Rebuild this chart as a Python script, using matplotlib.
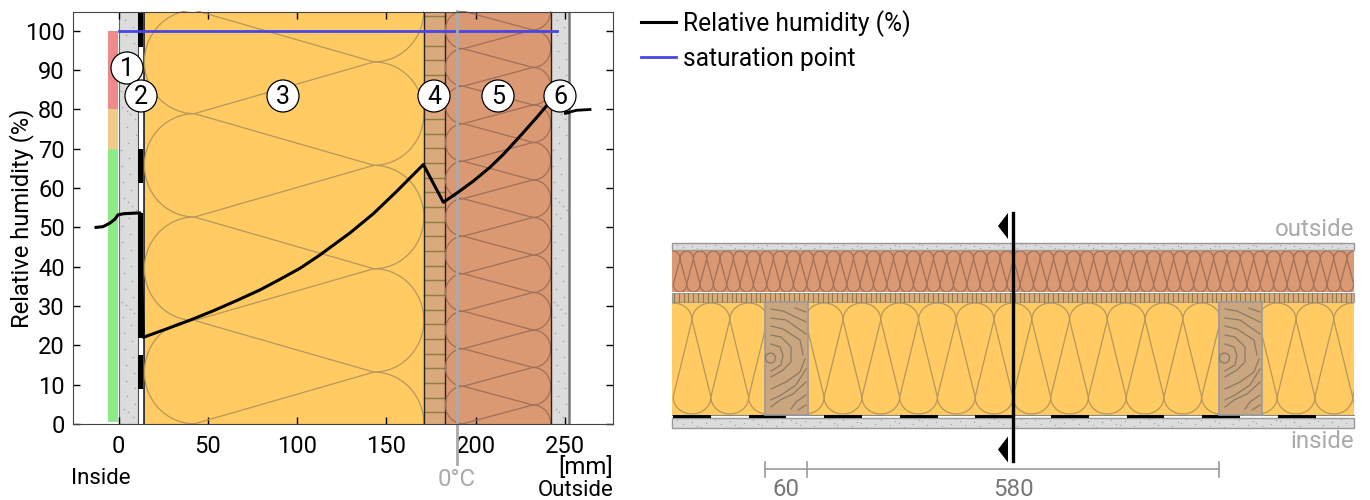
import matplotlib
matplotlib.use("Agg")
import matplotlib.pyplot as plt
import numpy as np
from matplotlib.patches import Rectangle, Circle, Polygon

plt.rcParams['font.family'] = ['Roboto', 'DejaVu Sans']

# humidity curve, mm through the wall / %
rh_x = [-12.6, -8.7, -4.8, -2, -0.3, 3, 12, 13.9, 27, 40, 53.1, 66.2, 79.2, 90.4, 101.6, 112.8, 129.6,
        142.7, 155.8, 170.7, 181.9, 190.3, 198.7, 208, 215.5, 224.8, 234.2, 239.8, 245]
rh_y = [50, 50.2, 51.1, 52.1, 53.2, 53.5, 53.7, 22.06, 24.2, 26.4, 28.8, 31.4, 34.1, 36.8, 39.6, 43, 48.6,
        53.5, 59.2, 66, 56.4, 59, 61.8, 65.3, 68.6, 73.2, 78, 81, 83.8]
out_x = [250.5, 256.5, 264]
out_y = [79.1, 79.8, 80]
sat_x = [0, 245.5]
sat_y = [100, 100]
zero_deg_x = 189.5

x_ticks = [0, 50, 100, 150, 200, 250]
y_ticks = [0, 10, 20, 30, 40, 50, 60, 70, 80, 90, 100]

# comfort band on the left
band_lo = [0, 70, 80]
band_hi = [70, 80, 100]
band_col = ['#8eea88', '#f0ca88', '#ef8a8a']

# wall layers in mm
wall = [0.3, 11]
membrane = [11, 13.8]
glass = [14.5, 171]
boards = [171, 183]
wood_fibre = [183, 242]
render = [242, 252]
# black parts of the vapour membrane, in %
membrane_lo = [9, 22, 61.3, 96]
membrane_hi = [17.5, 53.7, 70, 104.8]

labels = ['1', '2', '3', '4', '5', '6']
label_px = [127, 141, 283, 434, 498, 560]
label_py = [68, 96, 96, 96, 96, 96]

# section drawing, pixels
studs = [765, 1219]
dash_lo = [673, 749, 824, 900, 975, 1051, 1127, 1202, 1278]
dash_hi = [711, 786, 862, 938, 1013, 1089, 1164, 1240, 1316]
dim_ticks = [765, 807, 1219]
dim_text = ['60', '580']

YELLOW = '#ffcb62'
YLINE = '#b8975a'
RED = '#da9873'
RLINE = '#a07058'
BOARD = '#dbaa7c'
BLINE = '#8e7c42'
CONC = '#dcdcdc'
STUD = '#c9a680'


def batt(ax, p0, p1, rp, rr, c0, n, color, lw, clip, swap=False):
    # glass wool zigzag, p = across the layer, c = along the layer
    pa = p0 + rp
    pb = p1 - rp
    t = np.linspace(0, np.pi, 40)
    for k in range(n):
        c = c0 + 2 * rr * k
        pieces = [
            (pa - rp * np.sin(t), c - rr * np.cos(t)),
            (pb + rp * np.sin(t), c + rr - rr * np.cos(t)),
            ([pa, pb], [c + rr, c]),
            ([pa, pb], [c + rr, c + 2 * rr]),
        ]
        for a, b in pieces:
            xy = (b, a) if swap else (a, b)
            line, = ax.plot(xy[0], xy[1], color=color, lw=lw, zorder=2, solid_capstyle='butt')
            line.set_clip_path(clip)


def speckle(ax, x0, x1, y0, y1, n, size=1.0):
    # fixed scatter from the golden ratio sequence
    i = np.arange(1, n + 1)
    xs = x0 + (x1 - x0) * ((i * 0.6180339) % 1)
    ys = y0 + (y1 - y0) * ((i * 0.7548777) % 1)
    ax.scatter(xs, ys, s=size, color='#a5a5a5', linewidths=0, zorder=2)


fig = plt.figure(figsize=(13.7, 5), dpi=100)
ax = fig.add_axes([73 / 1370, 76 / 500, 540 / 1370, 412 / 500])
px_mm = 1.786
ax.set_xlim((73 - 118.5) / px_mm, (613 - 118.5) / px_mm)
ax.set_ylim(0, 104.8)

for lo, hi, col in zip(band_lo, band_hi, band_col):
    ax.add_patch(Rectangle((-6, lo + 0.5 if lo == 0 else lo), 5.5, hi - lo, color=col, lw=0, zorder=1))

# layers
ax.add_patch(Rectangle((wall[0], 0), wall[1] - wall[0], 105, fc=CONC, ec='#666666', lw=0.8, zorder=1))
speckle(ax, wall[0] + 1, wall[1] - 1, 1, 104, 60, 1.3)
ax.add_patch(Rectangle((membrane[0], 0), membrane[1] - membrane[0], 105, fc='white', ec='#444444', lw=0.7, zorder=1))
for lo, hi in zip(membrane_lo, membrane_hi):
    ax.add_patch(Rectangle((membrane[0], lo), membrane[1] - membrane[0], hi - lo, fc='black', lw=0, zorder=3))

r_glass = Rectangle((glass[0], 0), glass[1] - glass[0], 105, fc=YELLOW, ec='#333333', lw=0.7, zorder=1)
ax.add_patch(r_glass)
batt(ax, glass[0], glass[1], 28, 13.15, 92.1 - 26.3 * 4, 7, YLINE, 0.9, r_glass)

r_board = Rectangle((boards[0], 0), boards[1] - boards[0], 105, fc=BOARD, lw=0, zorder=1)
ax.add_patch(r_board)
for y in np.arange(3.0, 105, 3.73):
    ax.plot(boards, [y, y], color=BLINE, lw=1.0, zorder=2)
ax.axvline(boards[0], color='#222222', lw=1.0, zorder=2)
ax.axvline(boards[1], color='#222222', lw=1.0, zorder=2)

r_fibre = Rectangle((wood_fibre[0], 0), wood_fibre[1] - wood_fibre[0], 105, fc=RED, lw=0, zorder=1)
ax.add_patch(r_fibre)
batt(ax, wood_fibre[0], wood_fibre[1], 10, 4.77, 90.7 - 9.54 * 10, 13, RLINE, 0.9, r_fibre)
ax.axvline(wood_fibre[1], color='#222222', lw=1.0, zorder=2)

ax.add_patch(Rectangle((render[0], 0), render[1] - render[0], 105, fc=CONC, lw=0, zorder=1))
speckle(ax, render[0] + 1, render[1] - 1, 1, 104, 60, 1.3)
ax.axvline(render[1], color='#777777', lw=1.8, zorder=2)

ax.plot(rh_x, rh_y, color='black', lw=2.2, zorder=5, label='Relative humidity (%)')
ax.plot(out_x, out_y, color='black', lw=2.0, zorder=5)
ax.annotate('', xy=(out_x[0] - 1.5, out_y[0] - 0.4), xytext=(out_x[0] + 1, out_y[0] + 0.3),
            arrowprops=dict(arrowstyle='->', color='black', lw=1.0, mutation_scale=8, shrinkA=0, shrinkB=0), zorder=5)
ax.plot(sat_x, sat_y, color='#4646e6', lw=2, zorder=4, label='saturation point')
ax.plot([zero_deg_x, zero_deg_x], [-10.3, 105], color='#aaaaaa', lw=2, zorder=4, clip_on=False)

ax.set_xticks(x_ticks)
ax.set_yticks(y_ticks)
ax.tick_params(direction='in', length=5, width=1, top=True, right=True, labelsize=17, pad=8, zorder=6)
ax.tick_params(axis='y', pad=6)
ax.set_ylabel('Relative humidity (%)', fontsize=17)
ax.yaxis.set_label_coords((34 - 73) / 540, 0.5)
for s in ax.spines.values():
    s.set_color('#444444')
    s.set_zorder(6)

fig.legend(*ax.get_legend_handles_labels(), loc='upper left', bbox_to_anchor=(641 / 1370, 1 - 10 / 500),
           frameon=False, fontsize=17.7, handlelength=1.43, handletextpad=0.28, labelspacing=0.41,
           borderpad=0, borderaxespad=0)

# overlay in pixels
ov = fig.add_axes([0, 0, 1, 1], zorder=5)
ov.set_xlim(0, 1370)
ov.set_ylim(500, 0)
ov.axis('off')
ov.patch.set_alpha(0)

for t, x, y in zip(labels, label_px, label_py):
    ov.add_patch(Circle((x, y), 16, fc='white', ec='black', lw=0.9, zorder=6))
    ov.text(x, y + 1, t, fontsize=18, ha='center', va='center', zorder=7)

ov.text(101, 478, 'Inside', fontsize=16, ha='center', va='center')
ov.text(613, 467, '[mm]', fontsize=17.3, ha='right', va='center')
ov.text(614, 490, 'Outside', fontsize=16, ha='right', va='center')
ov.text(457, 479, '0°C', fontsize=17.3, ha='center', va='center', color='#aaaaaa')

# section drawing
X0, X1 = 672, 1354
for y0, y1 in [(243, 250), (418, 428)]:
    ov.add_patch(Rectangle((X0, y0), X1 - X0, y1 - y0, fc=CONC, ec='#999999', lw=1, zorder=1))
    speckle(ov, X0 + 2, X1 - 2, y0 + 1, y1 - 1, 110, 1.0)

r_top = Rectangle((X0, 251), X1 - X0, 41, fc=RED, lw=0, zorder=1)
ov.add_patch(r_top)
batt(ov, 251, 292, 8, 6.67, 686.7 - 13.34, 53, RLINE, 0.9, r_top, swap=True)

ov.add_patch(Rectangle((X0, 293), X1 - X0, 9, fc=BOARD, ec='#999999', lw=0.8, zorder=1))
for x in np.arange(X0 + 2, X1, 4.8):
    ov.plot([x, x], [293, 302], color=BLINE, lw=0.8, zorder=2)

r_bot = Rectangle((X0, 303), X1 - X0, 112, fc=YELLOW, lw=0, zorder=1)
ov.add_patch(r_bot)
batt(ov, 303, 414, 17, 18.875, 710.9 - 37.75, 19, YLINE, 0.9, r_bot, swap=True)

ov.plot([X0, X1], [415, 415], color='#888888', lw=0.8, zorder=2)
for lo, hi in zip(dash_lo, dash_hi):
    ov.add_patch(Rectangle((lo, 415), hi - lo, 3, fc='black', lw=0, zorder=3))

# grain of the studs, offsets from the top left corner
grain = [
    [(6, 7), (18, 9), (41, 20)],
    [(30, 6), (41, 10)],
    [(6, 16), (21, 18), (41, 32)],
    [(6, 24), (18, 27), (35, 38), (38, 53)],
    [(6, 33), (16, 35), (26, 45), (26, 60), (18, 68), (6, 75)],
    [(6, 42), (15, 45), (18, 53), (16, 63), (6, 69)],
    [(40, 57), (35, 70), (21, 80), (6, 87)],
    [(41, 67), (31, 83), (16, 93), (6, 98)],
    [(41, 80), (28, 92), (15, 98), (6, 105)],
    [(41, 93), (31, 100), (26, 107)],
    [(41, 103), (33, 108)],
]
for sx in studs:
    ov.add_patch(Rectangle((sx, 302), 43, 113, fc=STUD, ec='#999999', lw=1.2, zorder=4))
    ov.add_patch(Circle((sx + 5.5, 358), 5, fc='none', ec='#8a7a62', lw=0.9, zorder=5))
    for g in grain:
        ov.plot([sx + p[0] for p in g], [302 + p[1] for p in g], color='#8a7a62', lw=0.9, zorder=5)

ov.plot([1013, 1013], [213, 461], color='black', lw=2.4, zorder=6)
for yc in [226, 449.5]:
    ov.add_patch(Polygon([(998, yc), (1008, yc - 13), (1008, yc + 13)], fc='black', lw=0, zorder=6))

ov.plot([dim_ticks[0], dim_ticks[-1]], [469, 469], color='#999999', lw=1.2, zorder=2)
for x in dim_ticks:
    ov.plot([x, x], [462, 477], color='#999999', lw=1.2, zorder=2)
ov.text(786, 490, dim_text[0], fontsize=17.3, color='#777777', ha='center', va='center')
ov.text(1013, 490, dim_text[1], fontsize=17.3, color='#777777', ha='center', va='center')
ov.text(1354, 229, 'outside', fontsize=17.3, color='#aaaaaa', ha='right', va='center')
ov.text(1354, 442, 'inside', fontsize=17.3, color='#aaaaaa', ha='right', va='center')

fig.savefig('out.png', dpi=100)
